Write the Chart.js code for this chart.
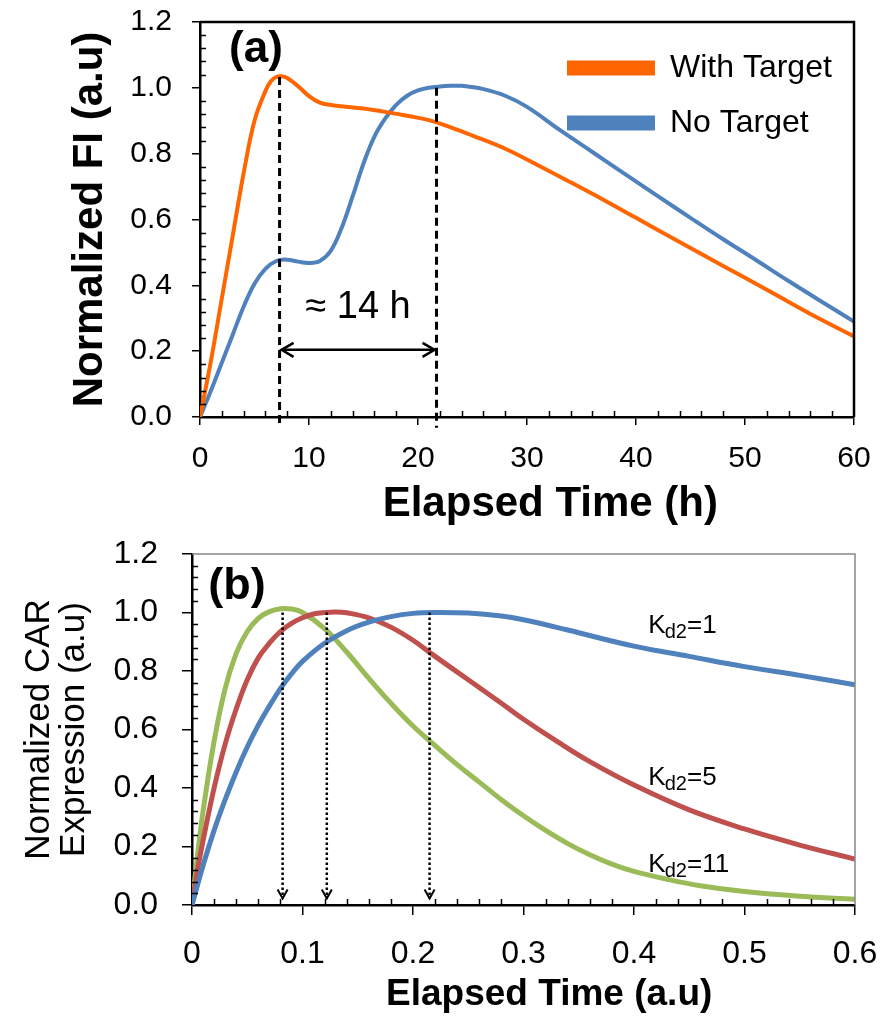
<!DOCTYPE html>
<html>
<head>
<meta charset="utf-8">
<script src="https://cdn.jsdelivr.net/npm/chart.js@4.4.1/dist/chart.umd.min.js"></script>
<style>
  html, body { margin: 0; padding: 0; background: #fff; }
  .box { position: absolute; left: 0; width: 882px; }
  #boxA { top: 0; height: 530px; }
  #boxB { top: 530px; height: 487px; }
</style>
</head>
<body>
<div class="box" id="boxA"><canvas id="chartA"></canvas></div>
<div class="box" id="boxB"><canvas id="chartB"></canvas></div>
<script>
// ---- panel (a): fluorescence vs elapsed time (h)
const timeWith = [0, 1, 2, 3, 4, 5, 6, 6.5, 7, 7.5, 8, 9, 10, 11, 12, 13, 15, 17, 19, 21, 23, 25, 28, 31, 34, 37, 40, 43, 46, 50, 53, 56, 60];
const withTarget = [0, 0.17, 0.36, 0.55, 0.74, 0.90, 0.99, 1.02, 1.033, 1.035, 1.03, 1.005, 0.975, 0.955, 0.948, 0.944, 0.937, 0.927, 0.915, 0.902, 0.88, 0.855, 0.815, 0.765, 0.713, 0.66, 0.605, 0.55, 0.495, 0.423, 0.368, 0.313, 0.245];
const timeNo = [0, 1, 2, 3, 4, 5, 6, 7, 8, 9, 10, 11, 12, 13, 14, 15, 16, 17, 18, 19, 20, 21, 22, 23, 24, 26, 28, 30, 33, 36, 39, 42, 45, 48, 51, 54, 57, 60];
const noTarget = [0, 0.08, 0.165, 0.25, 0.335, 0.405, 0.45, 0.474, 0.478, 0.472, 0.468, 0.474, 0.505, 0.575, 0.67, 0.77, 0.852, 0.907, 0.948, 0.976, 0.992, 1.0, 1.004, 1.006, 1.006, 0.996, 0.976, 0.942, 0.872, 0.805, 0.738, 0.671, 0.605, 0.54, 0.477, 0.413, 0.351, 0.29];
const peakTimesA = [7.3, 21.7];
const peakValuesA = [1.033, 1.0];
const gapLabel = '\u2248 14 h';

// ---- panel (b): CAR expression vs elapsed time (a.u)
const tK1 = [0, 0.01, 0.02, 0.03, 0.04, 0.05, 0.06, 0.07, 0.08, 0.09, 0.10, 0.12, 0.14, 0.16, 0.18, 0.20, 0.22, 0.25, 0.28, 0.30, 0.34, 0.40, 0.45, 0.50, 0.55, 0.60];
const vK1 = [0, 0.135, 0.255, 0.36, 0.455, 0.54, 0.615, 0.68, 0.74, 0.79, 0.833, 0.895, 0.938, 0.967, 0.986, 0.997, 1.0, 0.998, 0.988, 0.975, 0.94, 0.885, 0.85, 0.815, 0.785, 0.753];
const tK5 = [0, 0.005, 0.01, 0.02, 0.03, 0.04, 0.05, 0.06, 0.07, 0.08, 0.09, 0.10, 0.11, 0.12, 0.13, 0.14, 0.16, 0.18, 0.20, 0.22, 0.25, 0.28, 0.30, 0.33, 0.36, 0.40, 0.45, 0.50, 0.55, 0.60];
const vK5 = [0, 0.12, 0.22, 0.40, 0.55, 0.67, 0.77, 0.845, 0.895, 0.935, 0.963, 0.982, 0.995, 1.0, 1.002, 0.999, 0.982, 0.95, 0.905, 0.85, 0.77, 0.69, 0.635, 0.56, 0.49, 0.41, 0.325, 0.26, 0.205, 0.157];
const tK11 = [0, 0.005, 0.01, 0.02, 0.03, 0.04, 0.05, 0.06, 0.07, 0.08, 0.09, 0.10, 0.12, 0.14, 0.16, 0.18, 0.20, 0.22, 0.24, 0.26, 0.28, 0.30, 0.32, 0.34, 0.36, 0.38, 0.40, 0.43, 0.46, 0.50, 0.55, 0.60];
const vK11 = [0, 0.17, 0.32, 0.56, 0.74, 0.86, 0.935, 0.98, 1.003, 1.013, 1.012, 1.0, 0.945, 0.865, 0.775, 0.69, 0.612, 0.545, 0.48, 0.42, 0.36, 0.305, 0.255, 0.21, 0.172, 0.14, 0.115, 0.088, 0.066, 0.046, 0.03, 0.02];
const kdValues = ['1', '5', '11'];
const kdLabelX = 0.413;
const kdLabelY = [0.93, 0.41, 0.113];
const peakTimesB = [0.082, 0.122, 0.215];

const FONT = "'Liberation Sans', Arial, sans-serif";
const toXY = (xs, ys) => xs.map((x, i) => ({ x: x, y: ys[i] }));

// small inward ticks + top/right frame (Excel style)
function drawFrame(chart, o) {
    const { ctx, chartArea: a, scales: { x, y } } = chart;
    ctx.save();
    ctx.strokeStyle = '#000';
    ctx.lineWidth = 1.5;
    ctx.beginPath();
    const nx = Math.round((x.max - x.min) / o.xMinor);
    for (let i = 1; i < nx; i++) {
        if (i % o.xEvery === 0) continue;
        const px = Math.round(x.getPixelForValue(x.min + i * o.xMinor)) + 0.5;
        ctx.moveTo(px, a.bottom);
        ctx.lineTo(px, a.bottom - o.len);
    }
    const ny = Math.round((y.max - y.min) / o.yMinor);
    for (let i = 1; i < ny; i++) {
        if (i % o.yEvery === 0) continue;
        const py = Math.round(y.getPixelForValue(y.min + i * o.yMinor)) + 0.5;
        ctx.moveTo(a.left, py);
        ctx.lineTo(a.left + o.len, py);
    }
    ctx.stroke();
    ctx.strokeStyle = o.frameColor;
    ctx.lineWidth = o.frameWidth;
    ctx.beginPath();
    ctx.moveTo(a.left, a.top);
    ctx.lineTo(a.right, a.top);
    ctx.lineTo(a.right, a.bottom);
    ctx.stroke();
    ctx.restore();
}

function chevron(ctx, x, y, dir, w, h) {
    // dir: 'left' | 'right' | 'down'
    ctx.beginPath();
    if (dir === 'down') { ctx.moveTo(x - w, y - h); ctx.lineTo(x, y); ctx.lineTo(x + w, y - h); }
    if (dir === 'left') { ctx.moveTo(x + h, y - w); ctx.lineTo(x, y); ctx.lineTo(x + h, y + w); }
    if (dir === 'right') { ctx.moveTo(x - h, y - w); ctx.lineTo(x, y); ctx.lineTo(x - h, y + w); }
    ctx.stroke();
}

const annotA = {
    id: 'annotA',
    afterDatasetsDraw(chart) {
        const { ctx, chartArea: a, scales: { x, y } } = chart;
        drawFrame(chart, { xMinor: 2, xEvery: 5, yMinor: 0.04, yEvery: 5, len: 6, frameColor: '#000', frameWidth: 2.5 });
        ctx.save();
        // dashed peak markers
        ctx.strokeStyle = '#000';
        ctx.lineWidth = 3;
        ctx.setLineDash([8, 5]);
        peakTimesA.forEach((t, i) => {
            const px = x.getPixelForValue(t);
            ctx.beginPath();
            ctx.moveTo(px, y.getPixelForValue(peakValuesA[i]));
            ctx.lineTo(px, y.getPixelForValue(-0.033));
            ctx.stroke();
        });
        ctx.setLineDash([]);
        // double arrow between the peaks
        const ay = y.getPixelForValue(0.204);
        const x0 = x.getPixelForValue(peakTimesA[0]) + 2;
        const x1 = x.getPixelForValue(peakTimesA[1]) - 2;
        ctx.lineWidth = 2.5;
        ctx.beginPath();
        ctx.moveTo(x0, ay);
        ctx.lineTo(x1, ay);
        ctx.stroke();
        chevron(ctx, x0, ay, 'left', 7, 12);
        chevron(ctx, x1, ay, 'right', 7, 12);
        ctx.fillStyle = '#000';
        ctx.textAlign = 'center';
        ctx.textBaseline = 'middle';
        ctx.font = '38px ' + FONT;
        ctx.fillText(gapLabel, (x0 + x1) / 2, y.getPixelForValue(0.334));
        // panel letter
        ctx.font = 'bold 44px ' + FONT;
        ctx.fillText('(a)', a.left + 56, a.top + 28);
        // legend
        ctx.textAlign = 'left';
        ctx.font = '32px ' + FONT;
        chart.data.datasets.forEach((ds, i) => {
            const ly = a.top + 46 + i * 55;
            ctx.fillStyle = ds.borderColor;
            ctx.fillRect(a.right - 287, ly - 7.5, 88, 15);
            ctx.fillStyle = '#000';
            ctx.fillText(ds.label, a.right - 184, ly);
        });
        ctx.restore();
    }
};

const annotB = {
    id: 'annotB',
    afterDatasetsDraw(chart) {
        const { ctx, chartArea: a, scales: { x, y } } = chart;
        drawFrame(chart, { xMinor: 0.02, xEvery: 5, yMinor: 0.04, yEvery: 5, len: 6, frameColor: '#888', frameWidth: 1.5 });
        ctx.save();
        ctx.strokeStyle = '#000';
        ctx.lineWidth = 2.5;
        const tipY = y.getPixelForValue(0.022);
        peakTimesB.forEach(t => {
            const px = x.getPixelForValue(t);
            ctx.setLineDash([2.5, 2.5]);
            ctx.beginPath();
            ctx.moveTo(px, y.getPixelForValue(1.0));
            ctx.lineTo(px, tipY);
            ctx.stroke();
            ctx.setLineDash([]);
            ctx.lineWidth = 2;
            chevron(ctx, px, tipY, 'down', 5, 9);
            ctx.lineWidth = 2.5;
        });
        ctx.fillStyle = '#000';
        ctx.textBaseline = 'alphabetic';
        ctx.textAlign = 'left';
        kdValues.forEach((k, i) => {
            let px = x.getPixelForValue(kdLabelX);
            const py = y.getPixelForValue(kdLabelY[i]);
            ctx.font = '26px ' + FONT;
            ctx.fillText('K', px, py);
            px += ctx.measureText('K').width - 1;
            ctx.font = '20px ' + FONT;
            ctx.fillText('d2', px, py + 5);
            px += ctx.measureText('d2').width;
            ctx.font = '26px ' + FONT;
            ctx.fillText('=' + k, px, py);
        });
        ctx.textAlign = 'center';
        ctx.textBaseline = 'middle';
        ctx.font = 'bold 45px ' + FONT;
        ctx.fillText('(b)', a.left + 45, a.top + 33);
        ctx.restore();
    }
};

function axis(opts) {
    return {
        type: 'linear',
        min: opts.min,
        max: opts.max,
        ticks: {
            stepSize: opts.step,
            color: '#000',
            font: { family: FONT, size: opts.tickSize },
            padding: opts.tickPad,
            maxRotation: 0,
            autoSkip: false,
            callback: opts.fmt
        },
        grid: { drawOnChartArea: false, tickLength: opts.tickLen, color: '#000', lineWidth: 1.5 },
        border: { color: '#000', width: 2.5 },
        title: {
            display: true,
            text: opts.title,
            color: '#000',
            font: { family: FONT, size: opts.titleSize, weight: opts.titleWeight, lineHeight: opts.titleLH },
            padding: opts.titlePad
        },
        // fixed box size, no extra label padding: the plot area is set by layout.padding
        afterFit: s => {
            opts.fit(s);
            s.paddingTop = 0; s.paddingBottom = 0; s.paddingLeft = 0; s.paddingRight = 0;
        }
    };
}

document.addEventListener('DOMContentLoaded', () => {

    // 1. PANNELLO (a)
    new Chart(document.getElementById('chartA'), {
        type: 'line',
        data: {
            datasets: [
                { label: 'With Target', data: toXY(timeWith, withTarget), borderColor: '#FF6600', borderWidth: 4, pointRadius: 0, tension: 0.4 },
                { label: 'No Target', data: toXY(timeNo, noTarget), borderColor: '#4F81BD', borderWidth: 4, pointRadius: 0, tension: 0.4 }
            ]
        },
        options: {
            responsive: true,
            maintainAspectRatio: false,
            animation: false,
            layout: { padding: { top: 22, right: 28, left: 0, bottom: 0 } },
            plugins: { legend: { display: false }, tooltip: { enabled: false } },
            scales: {
                x: axis({ min: 0, max: 60, step: 10, tickSize: 30, tickPad: 16, tickLen: 8, fmt: v => String(v),
                    title: '    Elapsed Time (h)', titleSize: 42, titleWeight: 'bold', titleLH: 1.2, titlePad: { top: 0, bottom: 0 },
                    fit: s => { s.height = 113; } }),
                y: axis({ min: 0, max: 1.2, step: 0.2, tickSize: 30, tickPad: 20, tickLen: 8, fmt: v => v.toFixed(1),
                    title: 'Normalized FI (a.u)', titleSize: 42, titleWeight: 'bold', titleLH: 1.2, titlePad: { top: 65, bottom: 0 },
                    fit: s => { s.width = 200; } })
            }
        },
        plugins: [annotA]
    });

    // 2. PANNELLO (b)
    new Chart(document.getElementById('chartB'), {
        type: 'line',
        data: {
            datasets: [
                { label: 'Kd2=1', data: toXY(tK1, vK1), borderColor: '#4F81BD', borderWidth: 5, pointRadius: 0, tension: 0.4 },
                { label: 'Kd2=5', data: toXY(tK5, vK5), borderColor: '#C0504D', borderWidth: 5, pointRadius: 0, tension: 0.4 },
                { label: 'Kd2=11', data: toXY(tK11, vK11), borderColor: '#9BBB59', borderWidth: 5, pointRadius: 0, tension: 0.4 }
            ]
        },
        options: {
            responsive: true,
            maintainAspectRatio: false,
            animation: false,
            layout: { padding: { top: 24, right: 27, left: 0, bottom: 0 } },
            plugins: { legend: { display: false }, tooltip: { enabled: false } },
            scales: {
                x: axis({ min: 0, max: 0.6, step: 0.1, tickSize: 32, tickPad: 20, tickLen: 10, fmt: v => (v === 0 ? '0' : v.toFixed(1)),
                    title: '     Elapsed Time (a.u)', titleSize: 37, titleWeight: 'bold', titleLH: 1.2, titlePad: { top: 0, bottom: 0 },
                    fit: s => { s.height = 112; } }),
                y: axis({ min: 0, max: 1.2, step: 0.2, tickSize: 32, tickPad: 24, tickLen: 10, fmt: v => v.toFixed(1),
                    title: ['Normalized CAR', 'Expression (a.u)'], titleSize: 35, titleWeight: 'normal', titleLH: 1.0, titlePad: { top: 22, bottom: 0 },
                    fit: s => { s.width = 192; } })
            }
        },
        plugins: [annotB]
    });

});
</script>
</body>
</html>
